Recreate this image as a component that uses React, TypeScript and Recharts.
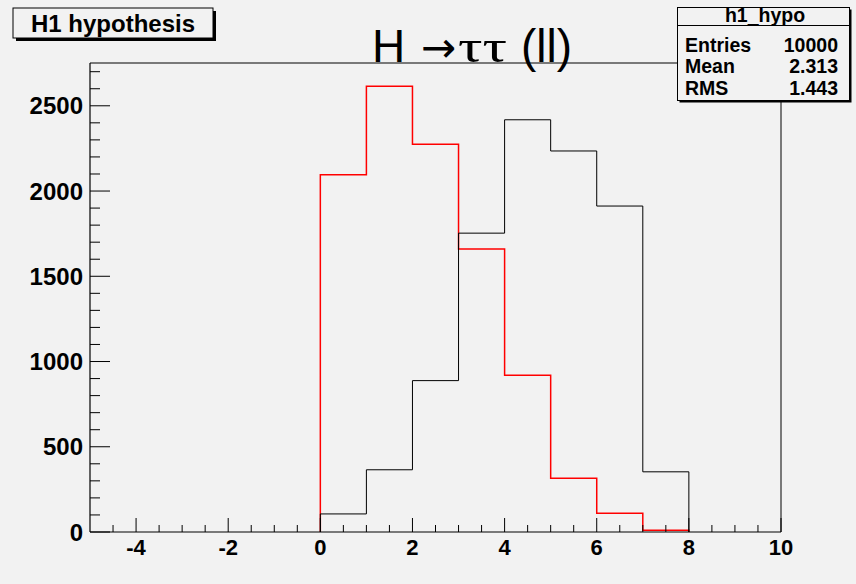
import React from 'react';
import { LineChart, Line, XAxis, YAxis, ReferenceLine } from 'recharts';

// ---- data ----
const binEdges = [0, 1, 2, 3, 4, 5, 6, 7, 8];
const redCounts = [2095, 2615, 2275, 1660, 920, 315, 110, 10];
const blackCounts = [106, 365, 888, 1753, 2418, 2235, 1912, 353];
const xMajorTicks = [-4, -2, 0, 2, 4, 6, 8, 10];
const yMajorTicks = [0, 500, 1000, 1500, 2000, 2500];
const xDomain: [number, number] = [-5, 10];
const yMax = 2751;
const titleParts = ['H', '\u2192', '\u03c4\u03c4', '(ll)'];
const legendText = 'H1 hypothesis';
const statsName = 'h1_hypo';
const statsLabels = ['Entries', 'Mean', 'RMS'];
const statsValues = ['10000', '2.313', '1.443'];

const xTicks: number[] = [];
for (let v = -4.5; v <= 10.001; v += 0.5) xTicks.push(Math.round(v * 10) / 10);
const yTicks: number[] = [];
for (let v = 0; v <= 2700; v += 100) yTicks.push(v);

function toSteps(counts: number[]) {
  const pts: { x: number; y: number }[] = [{ x: binEdges[0], y: 0 }];
  counts.forEach((c, i) => {
    pts.push({ x: binEdges[i], y: c });
    pts.push({ x: binEdges[i + 1], y: c });
  });
  pts.push({ x: binEdges[counts.length], y: 0 });
  return pts;
}
const redSteps = toSteps(redCounts);
const blackSteps = toSteps(blackCounts);

const FONT = '"Liberation Sans", Arial, Helvetica, sans-serif';

const XTick = (props: any) => {
  const { x, y, payload } = props;
  const v = payload.value;
  const major = xMajorTicks.includes(v);
  return (
    <g>
      <line x1={x} x2={x} y1={y} y2={y - (major ? 14 : 7)} stroke="#000" strokeWidth={1} />
      {major && (
        <text x={x} y={y + 23} textAnchor="middle" fontFamily={FONT} fontWeight="bold" fontSize={22} fill="#000">
          {v}
        </text>
      )}
    </g>
  );
};

const YTick = (props: any) => {
  const { x, y, payload } = props;
  const v = payload.value;
  const major = yMajorTicks.includes(v);
  return (
    <g>
      <line x1={x} x2={x + (major ? 20 : 10)} y1={y} y2={y} stroke="#000" strokeWidth={1} />
      {major && (
        <text x={x - 7} y={y + 8.5} textAnchor="end" fontFamily={FONT} fontWeight="bold" fontSize={24} fill="#000">
          {v}
        </text>
      )}
    </g>
  );
};

export default function App() {
  return (
    <div style={{ position: 'absolute', left: 0, top: 0, width: 856, height: 584, background: '#f2f2f2' }}>
      <LineChart width={856} height={584} margin={{ top: 63, right: 75, bottom: 22, left: 30 }}>
        <XAxis
          type="number"
          dataKey="x"
          domain={xDomain}
          allowDataOverflow
          ticks={xTicks}
          interval={0}
          tickSize={0}
          tickMargin={0}
          tickLine={false}
          tick={<XTick />}
          axisLine={{ stroke: '#000', strokeWidth: 1.2 }}
          height={30}
        />
        <YAxis
          type="number"
          dataKey="y"
          domain={[0, yMax]}
          allowDataOverflow
          ticks={yTicks}
          interval={0}
          tickSize={0}
          tickMargin={0}
          tickLine={false}
          tick={<YTick />}
          axisLine={{ stroke: '#000', strokeWidth: 1.2 }}
          width={60}
        />
        <ReferenceLine y={yMax} stroke="#000" strokeWidth={1} />
        <ReferenceLine x={10} stroke="#000" strokeWidth={1} />
        <Line data={redSteps} dataKey="y" type="linear" stroke="#ff0000" strokeWidth={1.5} dot={false} isAnimationActive={false} />
        <Line data={blackSteps} dataKey="y" type="linear" stroke="#000000" strokeWidth={1} dot={false} isAnimationActive={false} />
      </LineChart>
      <svg width={856} height={584} style={{ position: 'absolute', left: 0, top: 0, pointerEvents: 'none' }}>
        {/* title */}
        <text y={62} fontSize={46} fill="#000" fontFamily={FONT}>
          <tspan x={372}>{titleParts[0]}</tspan>
          <tspan x={421} fontFamily='"DejaVu Sans", sans-serif' fontSize={42}>{titleParts[1]}</tspan>
          <tspan x={458} fontFamily='"Liberation Serif", "DejaVu Serif", serif' textLength={49} lengthAdjust="spacingAndGlyphs">{titleParts[2]}</tspan>
          <tspan x={521}>{titleParts[3]}</tspan>
        </text>
        {/* legend box */}
        <rect x={16} y={11} width={200} height={30} fill="#000" />
        <rect x={13} y={8} width={200} height={30} fill="#f2f2f2" stroke="#000" strokeWidth={1} />
        <text x={113} y={31.5} textAnchor="middle" fontFamily={FONT} fontWeight="bold" fontSize={24} fill="#000">
          {legendText}
        </text>
        {/* stats box */}
        <rect x={679.5} y={9.5} width={172} height={93} fill="#000" />
        <rect x={677.5} y={7.5} width={172} height={93} fill="#f2f2f2" stroke="#000" strokeWidth={1} />
        <line x1={677.5} x2={849.5} y1={25.5} y2={25.5} stroke="#000" strokeWidth={1} />
        <text x={765} y={22} textAnchor="middle" fontFamily={FONT} fontWeight="bold" fontSize={19.5} fill="#000">
          {statsName}
        </text>
        {statsLabels.map((l, i) => (
          <g key={l}>
            <text x={685} y={51.5 + i * 21.5} fontFamily={FONT} fontWeight="bold" fontSize={19.5} fill="#000">
              {l}
            </text>
            <text x={838} y={51.5 + i * 21.5} textAnchor="end" fontFamily={FONT} fontWeight="bold" fontSize={19.5} fill="#000">
              {statsValues[i]}
            </text>
          </g>
        ))}
      </svg>
    </div>
  );
}
